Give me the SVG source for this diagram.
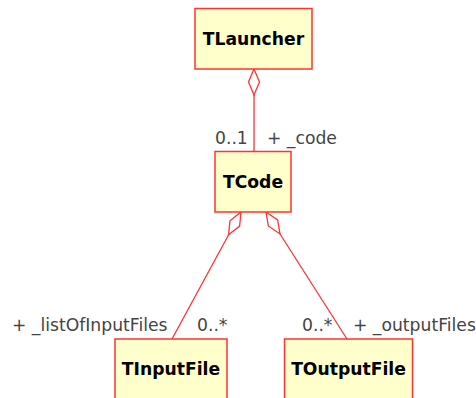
<svg xmlns="http://www.w3.org/2000/svg" width="476" height="398" viewBox="0 0 476 398">
<style>
.node rect{fill:#ffffcc;stroke:#ff3333;stroke-width:1.5}
.node text{font-family:"DejaVu Sans",sans-serif;font-weight:bold;font-size:17.2px;fill:#000;text-anchor:middle}
.lbl{font-family:"DejaVu Sans",sans-serif;font-size:17.2px;fill:#444}
.conn path{fill:none;stroke:#ff3333;stroke-width:1.3}
</style>
<defs>
<marker id="agg" markerUnits="userSpaceOnUse" markerWidth="30" markerHeight="14" refX="0" refY="7" orient="auto" viewBox="0 0 30 14" overflow="visible">
<path d="M0,7 L13,1.5 L26,7 L13,12.5 Z" fill="#fff" stroke="#ff3333" stroke-width="1.3"/>
</marker>
</defs>
<g class="conn">
<path d="M254,69 L254,151.5" marker-start="url(#agg)"/>
<path d="M241,212 L172,339" marker-start="url(#agg)"/>
<path d="M266,212 L347,339" marker-start="url(#agg)"/>
</g>
<g id="TLauncher" class="node"><rect x="195" y="8.5" width="117" height="60.5"/><text x="253.5" y="44.5">TLauncher</text></g>
<g id="TCode" class="node"><rect x="215" y="151.5" width="76" height="60.5"/><text x="253" y="187.5">TCode</text></g>
<g id="TInputFile" class="node"><rect x="115" y="339" width="112" height="70"/><text x="171" y="374.5">TInputFile</text></g>
<g id="TOutputFile" class="node"><rect x="284.5" y="339" width="128" height="70"/><text x="348.5" y="374.5">TOutputFile</text></g>
<text class="lbl" x="215" y="144">0..1</text>
<text class="lbl" x="267" y="144">+ _code</text>
<text class="lbl" x="12" y="331">+ _listOfInputFiles</text>
<text class="lbl" x="197" y="331">0..*</text>
<text class="lbl" x="302" y="331">0..*</text>
<text class="lbl" x="353" y="331">+ _outputFiles</text>
</svg>
